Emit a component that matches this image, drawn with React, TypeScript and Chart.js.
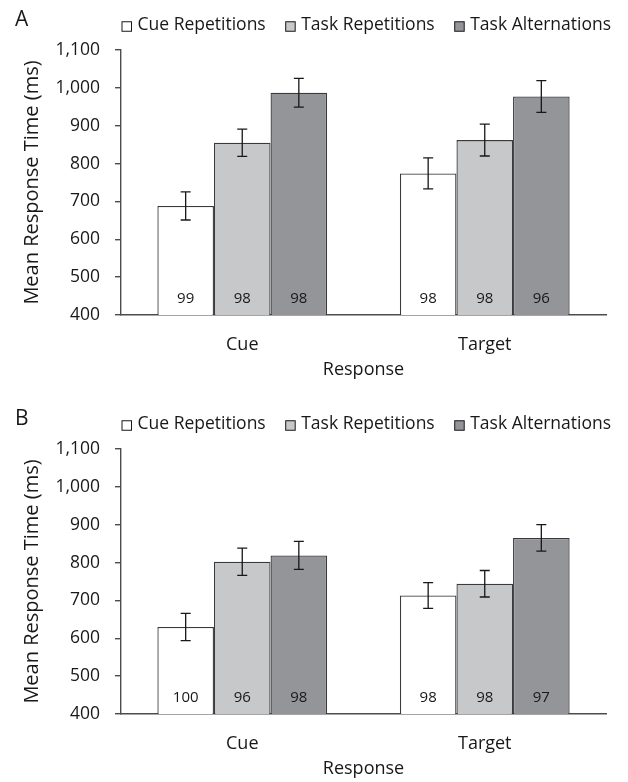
import React, { useEffect, useRef } from "react";
import { Chart, registerables } from "chart.js";
Chart.register(...registerables);

// ---------- data ----------
const categories = ["Cue", "Target"];
const seriesLabels = ["Cue Repetitions", "Task Repetitions", "Task Alternations"];
const yMin = 400;
const yMax = 1100;
const yStep = 100;

// Panel A
const aCueRep = [688, 774];
const aTaskRep = [855, 862];
const aTaskAlt = [987, 977];
const aCueRepErr = [37, 41];
const aTaskRepErr = [36, 42];
const aTaskAltErr = [38, 42];
const aCueRepAcc = [99, 98];
const aTaskRepAcc = [98, 98];
const aTaskAltAcc = [98, 96];

// Panel B
const bCueRep = [630, 713];
const bTaskRep = [802, 744];
const bTaskAlt = [819, 865];
const bCueRepErr = [36, 34];
const bTaskRepErr = [36, 35];
const bTaskAltErr = [37, 35];
const bCueRepAcc = [100, 98];
const bTaskRepAcc = [96, 98];
const bTaskAltAcc = [98, 97];

// ---------- style ----------
const FONT = '"Open Sans", "Noto Sans", sans-serif';
const TEXT = "#1a1718";
const AXIS = "#4d4d4f";
const fills = ["#ffffff", "#c7c8ca", "#939598"];
const W = 628;
const H = 391;

type PanelProps = {
  letter: string;
  values: number[][];
  errors: number[][];
  acc: number[][];
};

function makeErrorPlugin(errors: number[][], acc: number[][]) {
  return {
    id: "errorBarsAndLabels",
    afterDatasetsDraw(chart: any) {
      const ctx = chart.ctx as CanvasRenderingContext2D;
      const ys = chart.scales.y;
      chart.data.datasets.forEach((ds: any, i: number) => {
        const meta = chart.getDatasetMeta(i);
        meta.data.forEach((bar: any, j: number) => {
          const v = ds.data[j] as number;
          const e = errors[i][j];
          const x = bar.x;
          const yT = ys.getPixelForValue(v + e);
          const yB = ys.getPixelForValue(v - e);
          ctx.save();
          ctx.strokeStyle = TEXT;
          ctx.lineWidth = 1.3;
          ctx.beginPath();
          ctx.moveTo(x, yT);
          ctx.lineTo(x, yB);
          ctx.moveTo(x - 5, yT);
          ctx.lineTo(x + 5, yT);
          ctx.moveTo(x - 5, yB);
          ctx.lineTo(x + 5, yB);
          ctx.stroke();
          ctx.fillStyle = TEXT;
          ctx.font = `15px ${FONT}`;
          ctx.textAlign = "center";
          ctx.textBaseline = "middle";
          ctx.fillText(String(acc[i][j]), x, ys.getPixelForValue(yMin) - 16);
          ctx.restore();
        });
      });
    },
  };
}

function makeLegendPlugin(letter: string) {
  return {
    id: "customLegend",
    afterDraw(chart: any) {
      const ctx = chart.ctx as CanvasRenderingContext2D;
      ctx.save();
      // panel letter
      ctx.fillStyle = TEXT;
      ctx.font = `21px ${FONT}`;
      ctx.textAlign = "left";
      ctx.textBaseline = "middle";
      ctx.fillText(letter, 15, 20);
      // legend
      ctx.font = `17.5px ${FONT}`;
      let x = 122;
      const box = 9.5;
      const cy = 25;
      chart.data.datasets.forEach((ds: any) => {
        ctx.fillStyle = ds.backgroundColor;
        ctx.fillRect(x, cy + 1.5 - box / 2, box, box);
        ctx.strokeStyle = TEXT;
        ctx.lineWidth = 1;
        ctx.strokeRect(x, cy + 1.5 - box / 2, box, box);
        ctx.fillStyle = TEXT;
        const tx = x + box + 6;
        ctx.fillText(ds.label, tx, cy);
        x = tx + ctx.measureText(ds.label).width + 20;
      });
      ctx.restore();
    },
  };
}

function Panel({ letter, values, errors, acc }: PanelProps) {
  const ref = useRef<HTMLCanvasElement | null>(null);
  useEffect(() => {
    if (!ref.current) return;
    const chart = new Chart(ref.current, {
      type: "bar",
      data: {
        labels: categories,
        datasets: seriesLabels.map((lab, i) => ({
          label: lab,
          data: values[i],
          backgroundColor: fills[i],
          borderColor: "#3a3a3c",
          borderWidth: 1.3,
          categoryPercentage: 0.7,
          barPercentage: 1.0,
        })),
      },
      options: {
        animation: false,
        responsive: false,
        devicePixelRatio: 1,
        layout: { padding: { top: 50, right: 22, left: 0, bottom: 0 } },
        plugins: {
          legend: { display: false },
          title: { display: false },
          tooltip: { enabled: false },
        },
        scales: {
          x: {
            type: "category",
            grid: { display: false, drawTicks: false },
            border: { display: true, color: AXIS, width: 1.4 },
            ticks: {
              color: TEXT,
              font: { family: FONT, size: 18 },
              padding: 19,
            },
            title: {
              display: true,
              text: "Response",
              color: TEXT,
              font: { family: FONT, size: 18 },
              padding: { top: 0, bottom: 10 },
            },
            afterFit: (s: any) => {
              s.height = H - 315;
            },
          },
          y: {
            min: yMin,
            max: yMax,
            ticks: {
              stepSize: yStep,
              color: TEXT,
              font: { family: FONT, size: 17.5 },
              padding: 15,
              callback: (v: any) => Number(v).toLocaleString("en-US"),
            },
            grid: {
              drawOnChartArea: false,
              drawTicks: true,
              tickLength: 6,
              color: AXIS,
              lineWidth: 1.4,
            },
            border: { display: true, color: AXIS, width: 1.4 },
            title: {
              display: true,
              text: "Mean Response Time (ms)",
              color: TEXT,
              font: { family: FONT, size: 20 },
              padding: { top: 20, bottom: 0 },
            },
            afterFit: (s: any) => {
              s.width = 121;
            },
          },
        },
      },
      plugins: [makeErrorPlugin(errors, acc), makeLegendPlugin(letter)],
    });
    return () => chart.destroy();
  }, []);
  return <canvas ref={ref} width={W} height={H} style={{ display: "block", width: W, height: H }} />;
}

export default function App() {
  return (
    <div
      style={{
        position: "fixed",
        left: 0,
        top: 0,
        width: W,
        height: 782,
        overflow: "hidden",
        background: "#fff",
      }}
    >
      <div style={{ position: "absolute", left: 0, top: 0 }}>
        <Panel
          letter="A"
          values={[aCueRep, aTaskRep, aTaskAlt]}
          errors={[aCueRepErr, aTaskRepErr, aTaskAltErr]}
          acc={[aCueRepAcc, aTaskRepAcc, aTaskAltAcc]}
        />
      </div>
      <div style={{ position: "absolute", left: 0, top: 399 }}>
        <Panel
          letter="B"
          values={[bCueRep, bTaskRep, bTaskAlt]}
          errors={[bCueRepErr, bTaskRepErr, bTaskAltErr]}
          acc={[bCueRepAcc, bTaskRepAcc, bTaskAltAcc]}
        />
      </div>
    </div>
  );
}
